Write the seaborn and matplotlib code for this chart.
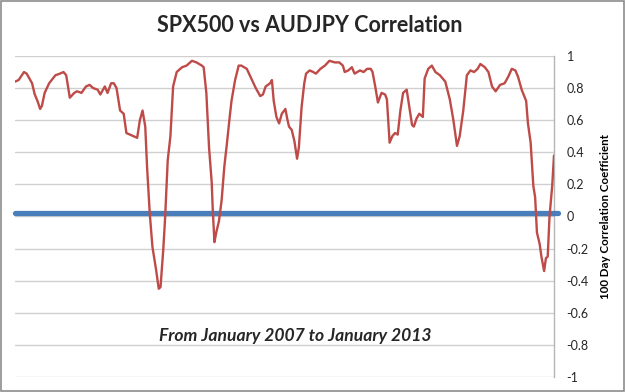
import matplotlib
matplotlib.use("Agg")
import matplotlib.pyplot as plt
import seaborn as sns
import pandas as pd
from matplotlib.patches import Rectangle

# Decimal-year dates and 100-day correlation values
years = [
    2007.00, 2007.04, 2007.10, 2007.13, 2007.19, 2007.22, 2007.25, 2007.28, 2007.30, 2007.33,
    2007.38, 2007.45, 2007.50, 2007.54, 2007.57, 2007.61, 2007.66, 2007.69, 2007.74, 2007.79,
    2007.83, 2007.87, 2007.92, 2007.95, 2007.98, 2008.00, 2008.03, 2008.07, 2008.10, 2008.13,
    2008.17, 2008.21, 2008.24, 2008.28, 2008.32, 2008.36, 2008.39, 2008.42, 2008.45, 2008.47,
    2008.50, 2008.53, 2008.57, 2008.60, 2008.62, 2008.65, 2008.67, 2008.70, 2008.73, 2008.76,
    2008.80, 2008.86, 2008.91, 2008.97, 2009.02, 2009.08, 2009.10, 2009.13, 2009.16, 2009.19,
    2009.20, 2009.22, 2009.24, 2009.27, 2009.30, 2009.33, 2009.36, 2009.39, 2009.41, 2009.45,
    2009.49, 2009.52, 2009.58, 2009.63, 2009.68, 2009.73, 2009.76, 2009.79, 2009.84, 2009.86,
    2009.88, 2009.91, 2009.94, 2009.97, 2010.01, 2010.03, 2010.05, 2010.08, 2010.11, 2010.14,
    2010.16, 2010.19, 2010.22, 2010.24, 2010.28, 2010.32, 2010.35, 2010.40, 2010.45, 2010.50,
    2010.56, 2010.61, 2010.65, 2010.67, 2010.71, 2010.75, 2010.78, 2010.81, 2010.84, 2010.88,
    2010.92, 2010.96, 2010.98, 2011.01, 2011.04, 2011.08, 2011.12, 2011.14, 2011.17, 2011.20,
    2011.23, 2011.26, 2011.29, 2011.32, 2011.36, 2011.39, 2011.42, 2011.44, 2011.47, 2011.50,
    2011.54, 2011.56, 2011.60, 2011.64, 2011.68, 2011.73, 2011.79, 2011.84, 2011.88, 2011.92,
    2011.95, 2011.99, 2012.03, 2012.07, 2012.11, 2012.15, 2012.18, 2012.23, 2012.27, 2012.31,
    2012.35, 2012.40, 2012.45, 2012.49, 2012.53, 2012.57, 2012.60, 2012.64, 2012.69, 2012.71,
    2012.74, 2012.77, 2012.79, 2012.81, 2012.84, 2012.86, 2012.89, 2012.91, 2012.93, 2012.95,
    2012.98, 2013.00,
]
correlation = [
    0.84, 0.85, 0.90, 0.89, 0.83, 0.76, 0.72, 0.67, 0.69, 0.77,
    0.83, 0.88, 0.89, 0.90, 0.88, 0.74, 0.77, 0.78, 0.77, 0.81,
    0.82, 0.80, 0.79, 0.76, 0.79, 0.81, 0.77, 0.83, 0.83, 0.80,
    0.66, 0.64, 0.52, 0.51, 0.50, 0.49, 0.60, 0.66, 0.56, 0.31,
    0.02, -0.19, -0.33, -0.45, -0.44, -0.21, -0.02, 0.35, 0.50, 0.81,
    0.90, 0.93, 0.94, 0.97, 0.96, 0.94, 0.93, 0.77, 0.43, 0.21,
    0.06, -0.16, -0.10, -0.03, 0.10, 0.31, 0.46, 0.62, 0.72, 0.85,
    0.94, 0.94, 0.92, 0.86, 0.80, 0.75, 0.76, 0.81, 0.83, 0.85,
    0.72, 0.62, 0.58, 0.64, 0.67, 0.61, 0.56, 0.54, 0.47, 0.36,
    0.43, 0.68, 0.83, 0.89, 0.91, 0.90, 0.89, 0.92, 0.94, 0.97,
    0.96, 0.96, 0.94, 0.90, 0.91, 0.93, 0.89, 0.90, 0.91, 0.90,
    0.92, 0.92, 0.90, 0.81, 0.71, 0.77, 0.76, 0.73, 0.46, 0.50,
    0.52, 0.51, 0.66, 0.77, 0.79, 0.68, 0.57, 0.56, 0.61, 0.64,
    0.62, 0.86, 0.92, 0.94, 0.90, 0.88, 0.84, 0.73, 0.60, 0.44,
    0.50, 0.66, 0.88, 0.91, 0.90, 0.92, 0.95, 0.93, 0.90, 0.81,
    0.78, 0.82, 0.83, 0.87, 0.92, 0.91, 0.87, 0.79, 0.72, 0.58,
    0.46, 0.19, 0.12, -0.10, -0.17, -0.25, -0.34, -0.26, -0.25, 0.00,
    0.19, 0.38,
]
zero_years = [2007.00, 2013.04]
zero_level = [0.02, 0.02]
y_ticks = [-1, -0.8, -0.6, -0.4, -0.2, 0, 0.2, 0.4, 0.6, 0.8, 1]
y_tick_labels = ["-1", "-0.8", "-0.6", "-0.4", "-0.2", "0", "0.2", "0.4", "0.6", "0.8", "1"]

title = "SPX500 vs AUDJPY Correlation"
y_label = "100 Day Correlation Coefficient"
note = "From January 2007 to January 2013"

sns.set_theme(style="white")
plt.rcParams["font.family"] = ["Lato", "DejaVu Sans"]

df = pd.DataFrame({"year": years, "corr": correlation})
zdf = pd.DataFrame({"year": zero_years, "level": zero_level})

fig = plt.figure(figsize=(6.25, 3.92), dpi=100)
ax = fig.add_axes([0.024, 0.0383, 0.8624, 0.8189])

ax.set_ylim(-1, 1)
ax.set_xlim(2007.0, 2013.0)
ax.set_yticks(y_ticks)
ax.set_yticklabels(y_tick_labels)
ax.yaxis.tick_right()
ax.tick_params(axis="y", length=0, pad=9, labelsize=9, labelcolor="#262626")
ax.set_xticks([])
ax.grid(axis="y", color="#D0D0D0", linewidth=1.0)
ax.set_axisbelow(True)
for s in ["top", "left", "bottom"]:
    ax.spines[s].set_visible(False)
ax.spines["right"].set_color("#B5B5B5")
ax.spines["right"].set_linewidth(1.0)

sns.lineplot(data=zdf, x="year", y="level", ax=ax, color="#4A7EBB",
             linewidth=3.8, clip_on=False, zorder=3)
sns.lineplot(data=df, x="year", y="corr", ax=ax, color="#BE4B48",
             linewidth=1.7, zorder=4)

ax.set_xlabel("")
ax.yaxis.set_label_position("right")
ax.set_ylabel(y_label, fontsize=8.3, fontweight="bold", color="black", labelpad=8)

fig.text(0.496, 0.936, title, ha="center", va="center", fontsize=15.5, fontweight="bold")
ax.text(0.52, 0.128, note, transform=ax.transAxes, ha="center", va="center",
        fontsize=12.6, fontweight="bold", fontstyle="italic")

fig.patches.append(Rectangle((0.001, 0.002), 0.997, 0.995, transform=fig.transFigure,
                             fill=False, edgecolor="#8C8C8C", linewidth=1.2))

fig.savefig("out.png", dpi=100)
